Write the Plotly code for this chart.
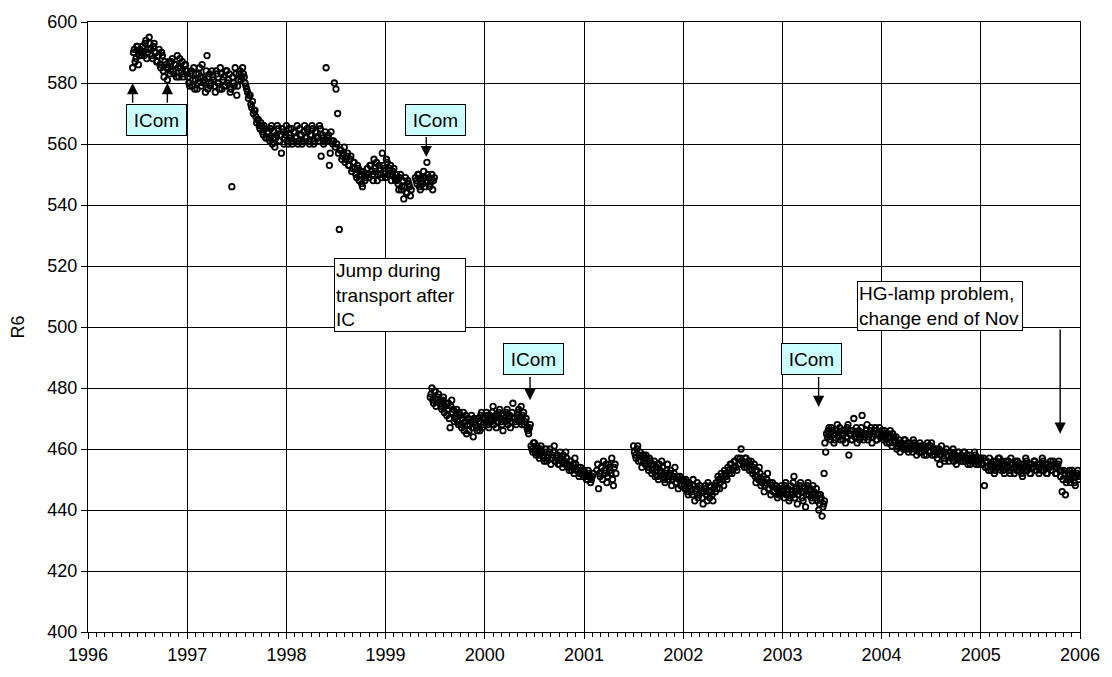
import plotly.graph_objects as go

STEP = 1 / 60  # sampling step of the readings, in years

# ---- data ----
# each segment: start year, readings "a" at start + i*STEP, readings "b" half a step later
seg1_start = 1996.45
seg1_a = [585, 591, 588, 592, 589, 590,
          592, 589, 594, 590, 595, 591, 588, 593, 590,
          587, 591, 585, 589, 582, 586,
          581, 587, 584, 588, 583, 586, 589, 582, 585, 587, 583, 586,
          584, 580, 583, 579, 585, 581, 578, 583, 582, 586, 580, 577, 589, 582, 579,
          584, 581, 577, 583, 580, 585, 578, 582, 579, 584, 581, 577, 546, 580, 585,
          576, 581, 584, 582,
          583, 580, 578, 575, 576, 572, 570, 571, 567, 568, 565, 566, 563, 565, 562,
          564, 561, 566, 562, 559, 563, 565, 561, 557, 564, 562, 566, 560, 563, 565,
          561, 564, 562, 560, 565, 563, 561, 566, 562, 564, 560, 563, 565, 561, 564,
          562, 566, 556, 563, 561, 585, 562, 553, 564,
          560, 580, 578, 570, 532, 558, 556, 559, 555, 557, 553, 556, 552, 554, 550,
          553, 548, 551, 546, 550, 549,
          552, 549, 553, 550, 555, 551, 548, 553, 550, 557, 552, 549, 554, 551, 553,
          550, 552, 548,
          548, 545, 550, 546, 542, 549, 544, 547, 543]
seg1_b = [590, 587, 592, 586, 591, 589,
          590, 593, 588, 591, 593, 589, 592, 590, 587,
          589, 586, 590, 584, 587, 585,
          585, 583, 587, 584, 586, 582, 585, 588, 584, 582, 586, 584,
          582, 579, 584, 581, 578, 583, 580, 585, 579, 582, 581, 584, 578, 583, 580,
          582, 579, 584, 580, 578, 583, 581, 579, 584, 580, 583, 578, 582, 579, 583,
          579, 583, 581, 585,
          582, 579, 577, 576, 573, 574, 571, 569, 568, 566, 567, 564, 566, 562, 564,
          562, 565, 560, 564, 562, 566, 561, 563, 565, 560, 563, 561, 565, 562, 560,
          564, 562, 566, 561, 563, 560, 564, 562, 565, 561, 563, 566, 560, 564, 562,
          561, 565, 562, 560, 564, 561, 563, 557, 561,
          561, 559, 560, 557, 558, 555, 557, 554, 556, 553, 555, 551, 554, 552, 549,
          552, 550, 547, 551, 548, 550,
          550, 553, 551, 548, 552, 554, 550, 552, 549, 553, 551, 555, 550, 552, 548,
          551, 549, 550,
          547, 549, 545, 548, 546, 544, 548, 546, 545]

seg2_start = 1999.30
seg2_a = [549, 547, 550, 545, 548, 551, 546, 554, 549, 547, 550, 548]
seg2_b = [548, 550, 546, 549, 547, 549, 548, 550, 546, 548, 545, 549]

seg3_start = 1999.45
seg3_a = [477, 480, 475, 479, 476, 478,
          476, 473, 477, 474, 471, 475, 467, 476, 473,
          470, 473, 468, 471, 467, 472, 469, 465, 470, 468, 471, 464, 469, 467, 470,
          466, 472, 468,
          470, 472, 468, 471, 469, 474, 470, 467, 471, 473, 469, 466, 470, 472, 468,
          471, 469, 475, 470, 468, 472, 469, 474, 471,
          468, 470, 466, 467,
          461, 459, 462, 458, 460, 457, 461, 458, 456, 460, 457, 459, 455, 458, 461,
          456, 458, 455, 457, 454, 456, 459, 455, 453, 456, 454, 452, 455, 453, 451,
          454, 452,
          453, 451, 450, 452, 449, 451]
seg3_b = [478, 476, 479, 474, 477, 475,
          474, 476, 472, 475, 473, 470, 474, 472, 469,
          471, 469, 472, 468, 470, 466, 471, 468, 466, 469, 467, 470, 468, 466, 469,
          471, 467, 470,
          469, 471, 467, 470, 472, 468, 471, 469, 472, 470, 468, 471, 469, 473, 470,
          467, 472, 470, 469, 471, 473, 470, 468, 472,
          469, 467, 465, 468,
          460, 462, 459, 461, 458, 460, 459, 457, 459, 456, 458, 460, 457, 459, 456,
          457, 455, 459, 456, 458, 455, 457, 454, 456, 453, 455, 457, 453, 454, 452,
          453, 451,
          452, 450, 453, 451, 450, 452]

seg4_start = 2001.13
seg4_a = [453, 447, 451, 454, 456, 452, 449, 455, 453, 457, 448, 455]
seg4_b = [455, 452, 454, 450, 453, 455, 451, 454, 452, 450, 454, 452]

seg5_start = 2001.50
seg5_a = [461, 458, 460, 456, 459, 454,
          458, 455, 457, 453, 456, 452, 455, 451, 454, 450, 453, 456, 451, 449, 453,
          450, 452, 448, 451, 454, 449, 447, 451, 448,
          450, 447, 449, 445, 448, 446, 450, 443, 447, 444, 448, 446, 442, 447, 445,
          449, 444, 446, 443, 448,
          449, 451, 447, 452, 450, 453, 451, 454, 452, 455, 453, 456, 454, 457, 455, 460,
          456, 454, 457, 455, 453, 456,
          452, 455, 449, 451, 454, 448, 450, 446, 449, 452, 447, 445, 449, 446, 448,
          444, 447, 445,
          447, 444, 449, 446, 443, 448, 445, 451, 446, 442, 447, 449, 444, 446, 441,
          448, 445, 447, 443, 446, 444,
          443, 440, 445, 438, 442]
seg5_b = [459, 457, 461, 458, 456, 458,
          456, 458, 454, 457, 455, 453, 456, 453, 451, 455, 452, 454, 450, 452, 455,
          451, 453, 450, 452, 449, 451, 450, 448, 450,
          448, 450, 446, 449, 447, 445, 448, 446, 449, 445, 447, 444, 446, 448, 443,
          446, 448, 445, 447, 446,
          447, 450, 449, 451, 448, 452, 450, 453, 455, 452, 454, 456, 453, 455, 457, 456,
          455, 457, 454, 456, 455, 453,
          454, 451, 453, 450, 452, 449, 451, 448, 450, 447, 449, 448, 446, 448, 447,
          445, 446, 448,
          446, 448, 445, 447, 444, 446, 449, 444, 447, 445, 448, 446, 443, 447, 445,
          449, 446, 444, 448, 445, 447,
          445, 442, 444, 441, 443]

seg6_start = 2003.42
seg6_a = [452, 459,
          464, 467, 463, 466, 462, 465, 468, 464, 463, 466, 465, 462, 467, 458, 466,
          463, 470, 465, 462, 466, 464, 471, 463, 465, 468, 464, 466, 462, 465, 467,
          463, 465, 464,
          466, 463, 465, 462, 464, 466, 461, 464, 463, 460, 462, 459,
          462, 460, 463, 461, 459, 462, 460, 463, 461, 458, 460, 462, 459, 461, 460,
          458, 461, 459, 462, 460, 458, 460, 459, 455, 461, 459, 456, 460, 458, 459,
          457, 460, 458, 455, 459, 457, 458, 456, 459, 457, 455, 458, 456, 457, 459,
          455, 457, 456,
          457, 455, 448, 456, 454, 457, 453, 455, 452, 456, 454, 457, 453, 455, 452,
          456, 454, 453, 457, 455, 452, 454, 456, 453, 455, 451, 454, 457, 453, 455,
          452, 454, 456, 453, 455, 452, 454, 457, 453, 455, 452, 454, 456, 453, 455,
          452, 454, 456,
          451, 446, 453, 445, 450, 452, 449, 453, 451, 448, 452, 450]
seg6_b = [462, 465,
          466, 464, 467, 465, 463, 466, 464, 467, 465, 463, 466, 464, 468, 465, 463,
          466, 464, 467, 465, 463, 467, 465, 464, 466, 463, 465, 467, 464, 466, 463,
          465, 467, 465,
          464, 466, 463, 465, 462, 464, 465, 462, 464, 461, 463, 461,
          461, 463, 460, 462, 460, 461, 459, 462, 460, 461, 459, 461, 460, 458, 460,
          462, 459, 461, 458, 460, 459, 457, 460, 458, 459, 457, 459, 458, 456, 459,
          458, 456, 458, 457, 459, 456, 457, 459, 456, 458, 457, 455, 457, 456, 458,
          456, 455, 457,
          455, 457, 454, 456, 453, 455, 454, 456, 453, 455, 457, 454, 456, 453, 455,
          454, 456, 452, 455, 454, 456, 453, 455, 454, 452, 455, 453, 456, 454, 452,
          455, 454, 456, 453, 454, 455, 453, 456, 454, 452, 455, 454, 453, 456, 454,
          452, 455, 453,
          453, 450, 452, 449, 451, 453, 450, 452, 449, 451, 453, 451]

segments = [(seg1_start, seg1_a, seg1_b), (seg2_start, seg2_a, seg2_b),
            (seg3_start, seg3_a, seg3_b), (seg4_start, seg4_a, seg4_b),
            (seg5_start, seg5_a, seg5_b), (seg6_start, seg6_a, seg6_b)]

# annotation data
icom_arrows = [  # (year, tail value, head value)
    (1996.45, 573, 580),
    (1996.80, 573, 580),
    (1999.41, 562.8, 555.7),
    (2000.456, 484.1, 476),
    (2003.365, 484.1, 473.8),
]
icom_boxes = [(1996.686, 568), (1999.50, 568), (2000.49, 489.5), (2003.295, 489.5)]
hg_arrow = (2005.80, 499.7, 465)

x_all, y_all = [], []
for start, vals_a, vals_b in segments:
    for i, v in enumerate(vals_a):
        x_all.append(start + i * STEP)
        y_all.append(v)
    for i, v in enumerate(vals_b):
        x_all.append(start + (i + 0.5) * STEP)
        y_all.append(v)

FONT = "Liberation Sans, Arial, sans-serif"

fig = go.Figure()
fig.add_trace(go.Scatter(
    x=x_all, y=y_all, mode="markers",
    marker=dict(symbol="circle-open", size=5.5, color="black", line=dict(width=1.8, color="black")),
    showlegend=False, hoverinfo="skip"))

annotations = []
for xa, tail, head in icom_arrows + [hg_arrow]:
    annotations.append(dict(x=xa, y=head, ax=xa, ay=tail, xref="x", yref="y",
                            axref="x", ayref="y", text="", showarrow=True,
                            arrowhead=2, arrowsize=1.6, arrowwidth=1.4, arrowcolor="black"))
for xb, yb in icom_boxes:
    annotations.append(dict(x=xb, y=yb, xref="x", yref="y", text="ICom", showarrow=False,
                            font=dict(family=FONT, size=19, color="black"),
                            bgcolor="#CCFFFF", bordercolor="black", borderwidth=1,
                            borderpad=3, width=53, height=24))
annotations.append(dict(x=1998.475, y=522.6, xref="x", yref="y", xanchor="left", yanchor="top",
                        text="Jump during<br>transport after<br>IC", showarrow=False, align="left",
                        font=dict(family=FONT, size=19, color="black"),
                        bgcolor="white", bordercolor="black", borderwidth=1, borderpad=1,
                        width=128))
annotations.append(dict(x=2003.756, y=515.0, xref="x", yref="y", xanchor="left", yanchor="top",
                        text="HG-lamp problem,<br>change end of Nov", showarrow=False, align="left",
                        font=dict(family=FONT, size=19, color="black"),
                        bgcolor="white", bordercolor="black", borderwidth=1, borderpad=1,
                        width=162))

axis_common = dict(showgrid=True, gridcolor="black", gridwidth=1, linecolor="black",
                   linewidth=1, mirror=True, ticks="outside", tickcolor="black",
                   zeroline=False, tickfont=dict(family=FONT, size=18, color="black"))

fig.update_layout(
    width=1112, height=677,
    margin=dict(l=88, r=26, t=15, b=44),
    paper_bgcolor="white", plot_bgcolor="white",
    font=dict(family=FONT, color="black"),
    xaxis=dict(range=[1996, 2006], tick0=1996, dtick=1, ticklen=6,
               minor=dict(dtick=1 / 12, ticks="outside", ticklen=4, tickcolor="black", showgrid=False),
               **axis_common),
    yaxis=dict(range=[400, 600], tick0=400, dtick=20, ticklen=6,
               title=dict(text="R6", font=dict(family=FONT, size=18), standoff=18),
               **axis_common),
    annotations=annotations,
)

fig.write_html("out.html")
